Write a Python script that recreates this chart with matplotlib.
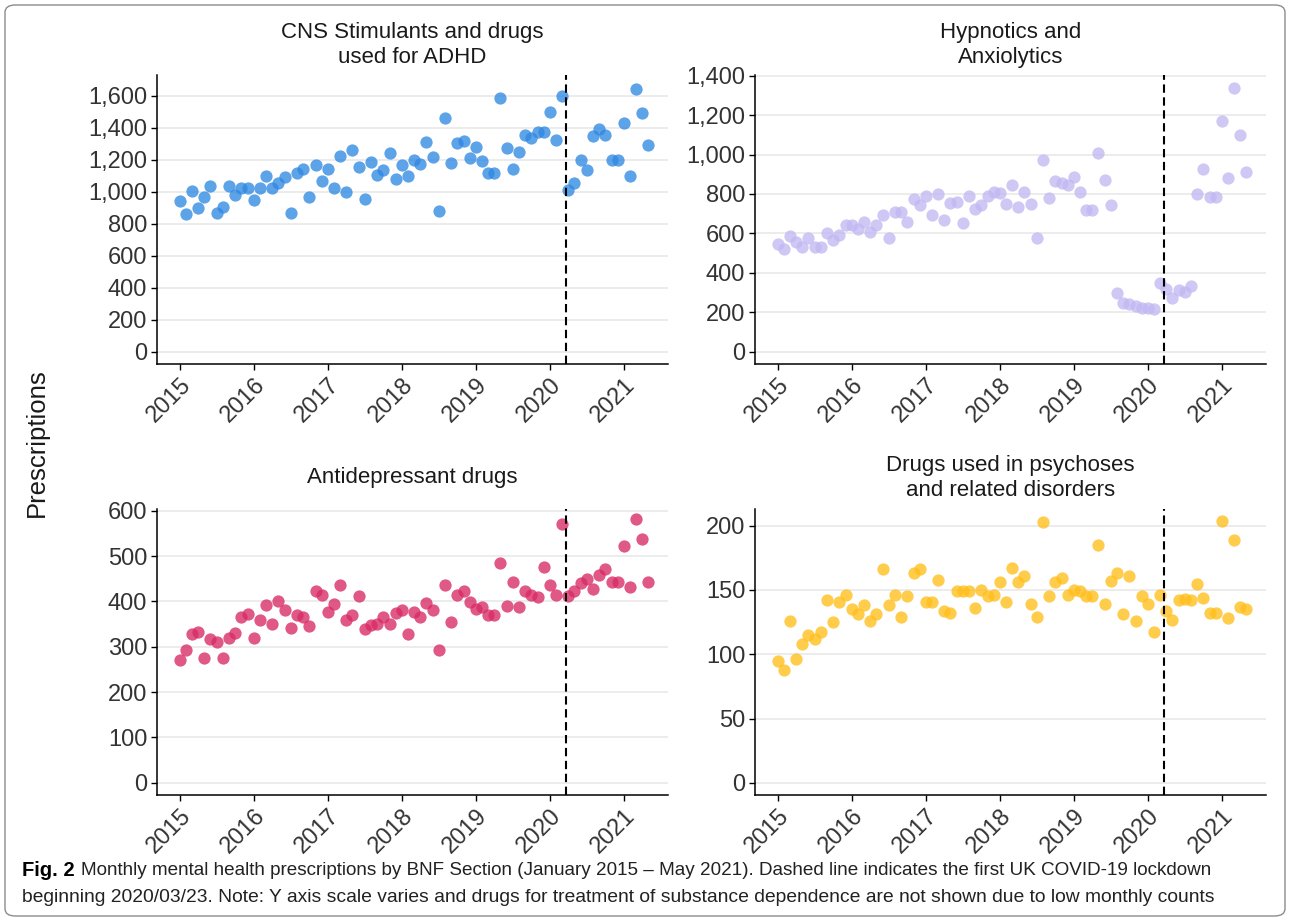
import numpy as np
import pandas as pd
import matplotlib
matplotlib.use('Agg')
import matplotlib.pyplot as plt
from matplotlib.ticker import StrMethodFormatter
from matplotlib.patches import FancyBboxPatch

plt.rcParams['font.family'] = ['Liberation Sans', 'DejaVu Sans']

# monthly counts, Jan 2015 - May 2021 (77 months)
months = pd.date_range('2015-01-01', periods=77, freq='MS')
lockdown = pd.Timestamp('2020-03-23')
years = list(range(2015, 2022))

adhd = [945, 860, 1006, 898, 965, 1035, 865, 908, 1035, 983, 1023, 1023,
        950, 1023, 1100, 1023, 1056, 1090, 865, 1117, 1140, 967, 1171, 1069,
        1140, 1021, 1225, 996, 1262, 1156, 956, 1185, 1108, 1135, 1240, 1079,
        1169, 1102, 1200, 1173, 1310, 1219, 881, 1460, 1183, 1306, 1319, 1210,
        1279, 1194, 1119, 1119, 1590, 1277, 1146, 1248, 1356, 1335, 1375, 1375,
        1498, 1323, 1600, 1012, 1058, 1198, 1135, 1352, 1392, 1356, 1202, 1202,
        1429, 1102, 1644, 1496, 1292]

hypnotics = [544, 519, 588, 556, 531, 575, 531, 531, 602, 564, 590, 641,
             641, 620, 659, 608, 641, 693, 576, 710, 707, 656, 773, 744,
             790, 692, 798, 666, 753, 759, 654, 792, 724, 746, 788, 808,
             803, 747, 847, 736, 808, 749, 576, 973, 778, 868, 854, 847,
             886, 808, 717, 717, 1007, 871, 744, 297, 247, 242, 231, 222,
             222, 217, 347, 317, 271, 314, 300, 332, 802, 927, 785, 785,
             1171, 881, 1337, 1098, 912]

antidep = [270, 294, 328, 333, 275, 318, 310, 275, 319, 331, 365, 372,
           320, 358, 393, 351, 401, 382, 342, 370, 365, 346, 422, 415,
           376, 395, 436, 359, 371, 411, 339, 348, 351, 365, 350, 374,
           382, 328, 377, 365, 397, 381, 293, 437, 354, 415, 423, 398,
           384, 388, 370, 370, 485, 391, 443, 387, 424, 414, 410, 477,
           436, 415, 571, 412, 422, 441, 450, 428, 458, 471, 444, 444,
           523, 433, 581, 537, 443]

psychoses = [95, 88, 126, 96, 108, 115, 112, 117, 142, 125, 141, 146,
             135, 131, 138, 126, 131, 166, 138, 146, 129, 145, 163, 166,
             141, 141, 158, 134, 132, 149, 149, 149, 136, 150, 145, 146,
             156, 141, 167, 156, 161, 139, 129, 203, 145, 156, 159, 146,
             150, 149, 145, 145, 185, 139, 157, 163, 131, 161, 126, 145,
             139, 117, 146, 134, 127, 142, 143, 142, 155, 144, 132, 132,
             204, 128, 189, 137, 135]

titles = ['CNS Stimulants and drugs\nused for ADHD',
          'Hypnotics and\nAnxiolytics',
          'Antidepressant drugs',
          'Drugs used in psychoses\nand related disorders']
series = [adhd, hypnotics, antidep, psychoses]
colors = ['#3089e2', '#c2b8f2', '#d82a64', '#ffbe1a']
yticks = [np.arange(0, 1601, 200), np.arange(0, 1401, 200),
          np.arange(0, 601, 100), np.arange(0, 201, 50)]
ylims = [(-77, 1731), (-63, 1404), (-27, 604), (-9.5, 213)]

W, H = 1290, 921
# axes boxes in pixels: left, top, right, bottom
boxes = [(157, 75, 668, 364), (755, 75, 1266, 364),
         (157, 509, 668, 795), (755, 509, 1266, 795)]
title_y = [45, 45, 477, 478]

fig = plt.figure(figsize=(W / 100, H / 100), dpi=100)

for i in range(4):
    l, t, r, b = boxes[i]
    ax = fig.add_axes([l / W, 1 - b / H, (r - l) / W, (b - t) / H])
    ax.scatter(months, series[i], s=78, color=colors[i], alpha=0.78,
               linewidths=0, zorder=3)
    ax.axvline(lockdown, color='black', lw=1.5, ls=(0, (4, 2.2)), zorder=4)

    ax.set_xlim(pd.Timestamp('2014-09-10'), pd.Timestamp('2021-08-06'))
    ax.set_xticks([pd.Timestamp(f'{y}-01-01') for y in years])
    ax.set_xticklabels([str(y) for y in years], rotation=45, ha='right',
                       va='top', rotation_mode='anchor')
    ax.set_ylim(*ylims[i])
    ax.set_yticks(yticks[i])
    ax.yaxis.set_major_formatter(StrMethodFormatter('{x:,.0f}'))

    ax.yaxis.grid(True, color='#ebebeb', lw=1.3)
    ax.set_axisbelow(True)
    for s in ['top', 'right']:
        ax.spines[s].set_visible(False)
    for s in ['left', 'bottom']:
        ax.spines[s].set_linewidth(1.1)
    ax.tick_params(direction='out', length=4, width=1.0, labelsize=17,
                   labelcolor='#333333', color='black', pad=3)

    fig.text((l + r) / 2 / W, 1 - title_y[i] / H, titles[i], ha='center',
             va='center', fontsize=16, linespacing=1.2, color='#1a1a1a')

fig.text(37 / W, 1 - 443 / H, 'Prescriptions', rotation=90, ha='center',
         va='center', fontsize=18.5, color='#1a1a1a')

# caption, font size fitted to the line widths of the reference
cap1 = fig.text(22 / W, 1 - 870 / H, 'Fig. 2', ha='left', va='center',
                fontsize=14.5, fontweight='bold')
cap2 = fig.text(81 / W, 1 - 870 / H,
                'Monthly mental health prescriptions by BNF Section (January 2015 \u2013 May 2021). '
                'Dashed line indicates the first UK COVID-19 lockdown',
                ha='left', va='center', fontsize=15, color='#222222')
cap3 = fig.text(22 / W, 1 - 897 / H,
                'beginning 2020/03/23. Note: Y axis scale varies and drugs for treatment of '
                'substance dependence are not shown due to low monthly counts',
                ha='left', va='center', fontsize=15, color='#222222')
renderer = fig.canvas.get_renderer()
for txt, target in [(cap2, 1220 - 81), (cap3, 1215 - 22)]:
    w = txt.get_window_extent(renderer).width
    txt.set_fontsize(15 * target / w)

# rounded frame around the whole figure
frame = FancyBboxPatch((5 / W, 5 / H), 1280 / W, 911 / H,
                       boxstyle='round,pad=0,rounding_size=0.008',
                       transform=fig.transFigure, fill=False,
                       ec='#8c8c8c', lw=1.0)
fig.patches.append(frame)

fig.savefig('out.png', dpi=100)
